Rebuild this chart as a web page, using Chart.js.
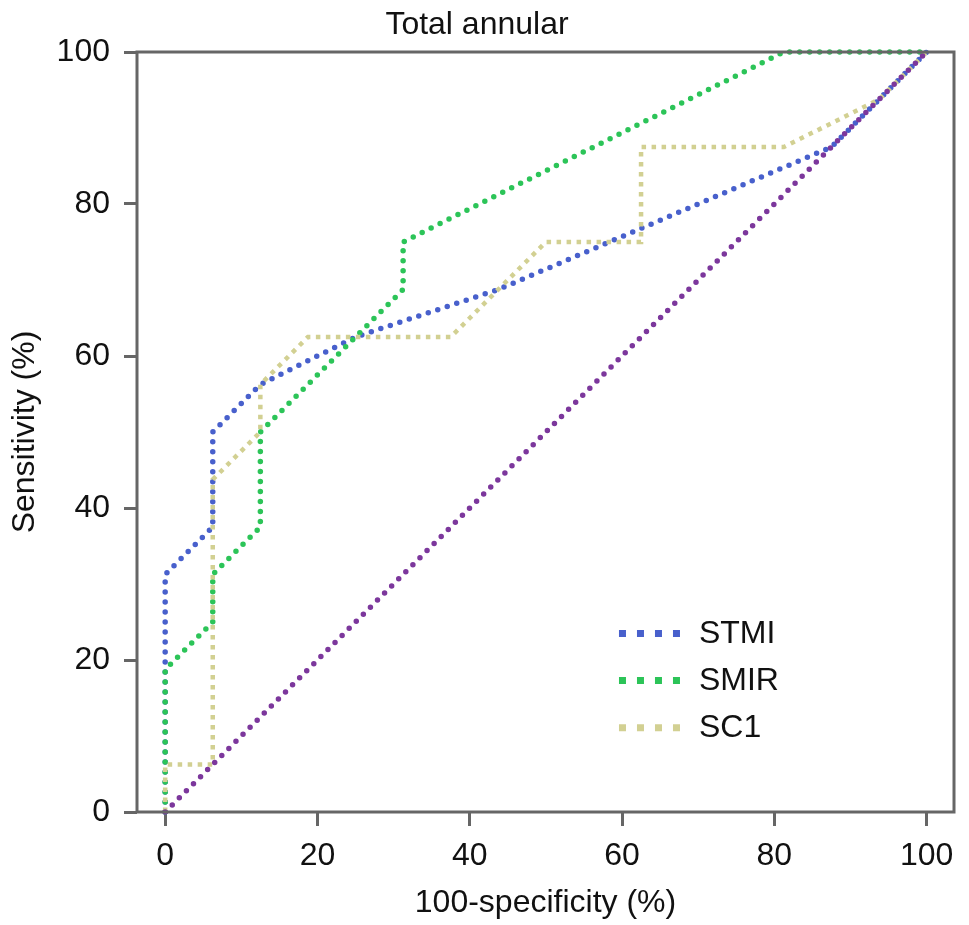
<!DOCTYPE html>
<html>
<head>
<meta charset="utf-8">
<title>Total annular</title>
<script src="https://cdn.jsdelivr.net/npm/chart.js@4.4.1/dist/chart.umd.min.js"></script>
<style>
  html, body { margin: 0; padding: 0; background: #fff; }
  #wrap { width: 969px; height: 925px; }
</style>
</head>
<body>
<div id="wrap"><canvas id="rocChart"></canvas></div>
<script>
// ROC points (100-specificity %, sensitivity %)
const stmiX = [0, 0, 6.25, 6.25, 12.5, 25, 43.75, 87.5, 100];
const stmiY = [0, 31.25, 37.5, 50, 56.25, 62.5, 68.75, 87.5, 100];

const smirX = [0, 0, 6.25, 6.25, 12.5, 12.5, 31.25, 31.25, 81.25, 100];
const smirY = [0, 18.75, 25, 31.25, 37.5, 50, 68.75, 75, 100, 100];

const sc1X = [0, 0, 6.25, 6.25, 12.5, 12.5, 18.75, 37.5, 50, 62.5, 62.5, 81.25, 93.75, 100];
const sc1Y = [0, 6.25, 6.25, 43.75, 50, 56.25, 62.5, 62.5, 75, 75, 87.5, 87.5, 93.75, 100];

const refX = [0, 100];
const refY = [0, 100];

const xTicks = [0, 20, 40, 60, 80, 100];
const yTicks = [0, 20, 40, 60, 80, 100];

const legendNames = ['STMI', 'SMIR', 'SC1'];

const FONT = "'Liberation Sans', Arial, Helvetica, sans-serif";
const AXIS_GREY = '#666666';
const TEXT = '#111111';

function toPoints(xs, ys) {
  return xs.map((x, i) => ({ x: x, y: ys[i] }));
}

// draws the box round the plot area
const framePlugin = {
  id: 'frame',
  afterDatasetsDraw(chart) {
    const { ctx, chartArea } = chart;
    ctx.save();
    ctx.strokeStyle = AXIS_GREY;
    ctx.lineWidth = 3;
    ctx.strokeRect(chartArea.left, chartArea.top, chartArea.right - chartArea.left, chartArea.bottom - chartArea.top);
    ctx.restore();
  }
};

// legend sitting inside the plot, lower right
const insideLegend = {
  id: 'insideLegend',
  afterDraw(chart) {
    const { ctx } = chart;
    const xs = chart.scales.x;
    const ys = chart.scales.y;
    const x0 = xs.getPixelForValue(59.6);
    const textX = xs.getPixelForValue(70.1);
    const rows = [23.5, 17.3, 11.1];
    ctx.save();
    legendNames.forEach((name, i) => {
      const ds = chart.data.datasets[i];
      const y = ys.getPixelForValue(rows[i]);
      ctx.beginPath();
      ctx.strokeStyle = ds.borderColor;
      ctx.lineWidth = 7;
      ctx.lineCap = 'butt';
      ctx.setLineDash([7, 11]);
      ctx.moveTo(x0, y);
      ctx.lineTo(x0 + 61, y);
      ctx.stroke();
      ctx.setLineDash([]);
      ctx.fillStyle = TEXT;
      ctx.font = '32px ' + FONT;
      ctx.textAlign = 'left';
      ctx.textBaseline = 'middle';
      ctx.fillText(name, textX, y + 1);
    });
    ctx.restore();
  }
};

const myChartElement = document.getElementById('rocChart');

// order: higher numbers are drawn first, so SC1 and the diagonal sit on top
let myDatasets = [
  {
    label: legendNames[0],
    data: toPoints(stmiX, stmiY),
    borderColor: '#4860cc',
    borderWidth: 5.5,
    borderDash: [0, 10],
    borderCapStyle: 'round',
    pointRadius: 0,
    tension: 0,
    clip: false,
    order: 4
  },
  {
    label: legendNames[1],
    data: toPoints(smirX, smirY),
    borderColor: '#2cc458',
    borderWidth: 5.5,
    borderDash: [0, 10],
    borderCapStyle: 'round',
    pointRadius: 0,
    tension: 0,
    clip: false,
    order: 3
  },
  {
    label: legendNames[2],
    data: toPoints(sc1X, sc1Y),
    borderColor: '#d2d092',
    borderWidth: 4.5,
    borderDash: [4.5, 5.5],
    borderCapStyle: 'butt',
    pointRadius: 0,
    tension: 0,
    clip: false,
    order: 2
  },
  {
    label: 'Reference',
    data: toPoints(refX, refY),
    borderColor: '#7c379c',
    borderWidth: 5.5,
    borderDash: [0, 10],
    borderCapStyle: 'round',
    pointRadius: 0,
    tension: 0,
    clip: false,
    order: 1
  }
];

let myOptions = {
  responsive: true,
  maintainAspectRatio: false,
  animation: false,
  layout: {
    padding: { left: 0, right: 15, top: 0, bottom: 0 }
  },
  plugins: {
    legend: { display: false },
    tooltip: { enabled: false },
    title: {
      display: true,
      text: 'Total annular',
      color: TEXT,
      font: { family: FONT, size: 32, weight: 'normal', lineHeight: 1 },
      padding: { top: 9, bottom: 11 }
    }
  },
  scales: {
    x: {
      type: 'linear',
      min: -3.7,
      max: 103.6,
      afterBuildTicks: axis => { axis.ticks = xTicks.map(v => ({ value: v })); },
      afterFit: axis => { axis.height = 113; },
      grid: {
        drawOnChartArea: false,
        drawTicks: true,
        tickLength: 14,
        color: AXIS_GREY,
        lineWidth: 3
      },
      border: { display: false },
      ticks: {
        color: TEXT,
        padding: 11,
        maxRotation: 0,
        font: { family: FONT, size: 32 }
      },
      title: {
        display: true,
        text: '100-specificity (%)',
        color: TEXT,
        font: { family: FONT, size: 32 },
        padding: { top: 0, bottom: 3 }
      }
    },
    y: {
      type: 'linear',
      min: 0,
      max: 100,
      afterBuildTicks: axis => { axis.ticks = yTicks.map(v => ({ value: v })); },
      afterFit: axis => { axis.width = 137; },
      grid: {
        drawOnChartArea: false,
        drawTicks: true,
        tickLength: 13,
        color: AXIS_GREY,
        lineWidth: 3
      },
      border: { display: false },
      ticks: {
        color: TEXT,
        padding: 14,
        font: { family: FONT, size: 32 }
      },
      title: {
        display: true,
        text: 'Sensitivity (%)',
        color: TEXT,
        font: { family: FONT, size: 32 },
        padding: { top: 6, bottom: 0 }
      }
    }
  }
};

let myChart = new Chart(myChartElement, {
  type: 'line',
  data: { datasets: myDatasets },
  options: myOptions,
  plugins: [framePlugin, insideLegend]
});
</script>
</body>
</html>
